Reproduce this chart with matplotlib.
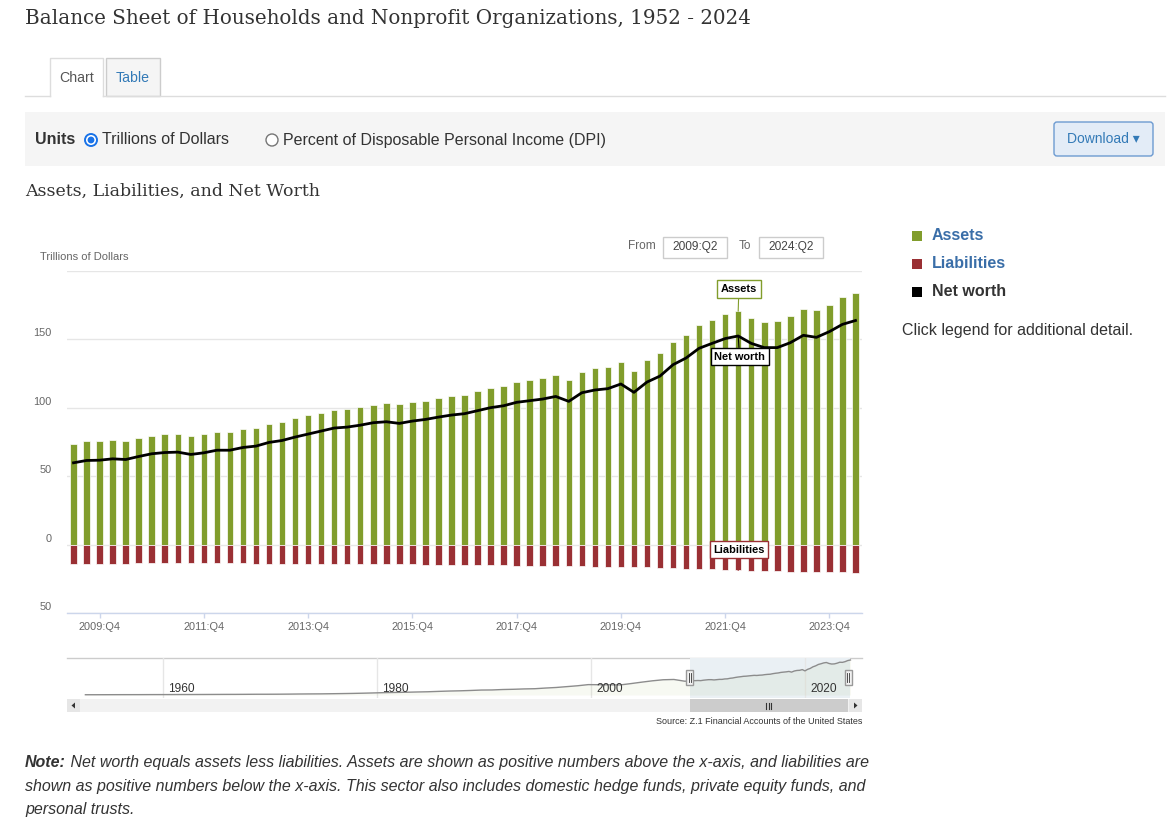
import matplotlib
matplotlib.use('Agg')
import matplotlib.pyplot as plt
from matplotlib.patches import Rectangle, FancyBboxPatch, Circle, Polygon
from matplotlib.transforms import offset_copy

plt.rcParams['font.family'] = ['Liberation Sans', 'DejaVu Sans']

W, H = 1176, 826

# ---------------- data ----------------
quarters = [f"{y}:Q{q}" for y in range(2009, 2025) for q in range(1, 5)][1:-2]  # 2009:Q2 .. 2024:Q2

assets = [73.2, 75.4, 75.4, 76.1, 75.4, 77.6, 79.1, 80.5, 80.5, 79.1,
          80.5, 82.0, 82.0, 84.2, 84.9, 87.8, 89.3, 92.2, 94.4, 96.0,
          98.1, 98.8, 100.3, 101.7, 103.2, 102.5, 104.0, 104.7, 106.9, 108.3,
          109.1, 112.0, 114.2, 115.7, 118.6, 120.1, 121.5, 123.7, 120.1, 125.9,
          128.8, 129.6, 133.2, 126.6, 134.7, 139.8, 148.1, 153.0, 160.3, 164.0,
          168.4, 170.6, 165.4, 162.5, 163.3, 166.9, 172.0, 171.3, 175.0, 180.8,
          183.7]

liabilities = [14.0, 14.0, 13.9, 13.9, 13.9, 13.8, 13.8, 13.8, 13.8, 13.8,
               13.8, 13.8, 13.8, 13.8, 13.9, 13.9, 13.9, 14.0, 14.0, 14.0,
               14.1, 14.1, 14.2, 14.2, 14.3, 14.5, 14.5, 14.6, 14.6, 14.7,
               14.7, 14.8, 14.9, 15.2, 15.3, 15.4, 15.5, 15.6, 15.9, 16.0,
               16.1, 16.2, 16.5, 16.6, 16.7, 16.9, 17.3, 17.6, 17.9, 18.2,
               18.6, 18.9, 19.3, 19.5, 19.6, 19.8, 20.0, 19.9, 20.2, 20.3,
               20.4]

net_worth = [59.8, 61.5, 61.7, 62.7, 62.2, 64.4, 66.4, 67.3, 67.6, 65.9,
             67.1, 69.0, 69.0, 71.0, 72.0, 74.7, 76.1, 78.6, 80.8, 83.0,
             85.2, 85.9, 87.3, 89.1, 89.8, 88.6, 90.3, 91.5, 93.2, 94.7,
             95.7, 97.9, 100.1, 101.5, 104.0, 105.2, 106.4, 108.3, 104.7, 111.0,
             113.0, 114.0, 117.4, 111.3, 118.8, 123.2, 131.5, 136.4, 143.5, 147.1,
             150.6, 152.5, 147.1, 144.0, 144.0, 147.6, 153.0, 151.5, 155.7, 161.0,
             163.8]

# navigator: annual assets 1952-2008 (year-end), then the quarterly series
nav_years = list(range(1952, 2009))
nav_assets_annual = [1.4, 1.45, 1.6, 1.75, 1.85, 1.9, 2.1, 2.2, 2.3, 2.5,
                     2.55, 2.75, 2.95, 3.2, 3.3, 3.6, 3.95, 4.0, 4.25, 4.7,
                     5.3, 5.7, 6.0, 6.7, 7.5, 8.4, 9.6, 11.0, 12.5, 13.5,
                     14.5, 15.9, 17.0, 19.0, 20.8, 22.0, 23.8, 26.0, 26.5, 28.8,
                     30.0, 31.9, 33.0, 36.5, 39.5, 44.0, 48.5, 54.5, 54.0, 53.5,
                     53.0, 60.0, 67.5, 74.5, 80.0, 81.5, 72.5]

yticks = [-50, 0, 50, 100, 150, 200]
ytick_labels = ["50", "0", "50", "100", "150", ""]
xtick_idx = list(range(2, 61, 8))
nav_label_years = [1960, 1980, 2000, 2020]

GREEN = '#819d2c'
RED = '#9a3034'
BLUE_TXT = '#3a6ea8'
DARK = '#333333'

fig = plt.figure(figsize=(W / 100, H / 100), dpi=100)
fig.patch.set_facecolor('white')
bg = fig.add_axes([0, 0, 1, 1])
bg.set_xlim(0, W)
bg.set_ylim(H, 0)
bg.axis('off')
renderer = fig.canvas.get_renderer()


def fit(t, target):
    w = t.get_window_extent(renderer).width
    t.set_fontsize(t.get_fontsize() * target / w)


# ---------------- header ----------------
t = bg.text(25, 18, "Balance Sheet of Households and Nonprofit Organizations, 1952 - 2024",
            family='DejaVu Serif', fontsize=15, color=DARK, va='center', ha='left')
fit(t, 723)

# tabs
bg.plot([25, 50], [96, 96], color='#dddddd', lw=1)
bg.plot([103, 1165], [96, 96], color='#dddddd', lw=1)
bg.plot([50, 50, 103, 103], [96, 58, 58, 96], color='#dddddd', lw=1)
bg.add_patch(Rectangle((106, 58), 54, 38, fc='#f5f5f5', ec='#cccccc', lw=1))
bg.text(77, 78, "Chart", fontsize=10.2, color='#555555', ha='center', va='center')
bg.text(133, 78, "Table", fontsize=10.2, color='#337ab7', ha='center', va='center')

# units bar
bg.add_patch(Rectangle((25, 112), 1140, 54, fc='#f5f5f5', ec='none'))
bg.text(35, 140, "Units", fontsize=11.5, fontweight='bold', color=DARK, va='center')
bg.add_patch(Circle((91, 140), 6.0, fc='white', ec='#1a73e8', lw=1.4))
bg.add_patch(Circle((91, 140), 3.4, fc='#1a73e8', ec='none'))
bg.text(102, 140, "Trillions of Dollars", fontsize=11.5, color=DARK, va='center')
bg.add_patch(Circle((272, 140), 6.0, fc='white', ec='#767676', lw=1.0))
bg.text(283, 140, "Percent of Disposable Personal Income (DPI)", fontsize=11.5, color=DARK, va='center')

bg.add_patch(FancyBboxPatch((1054, 122), 99, 34, boxstyle='round,pad=0,rounding_size=3',
                            fc='#e3ecf7', ec='#6d9bd1', lw=1))
bg.text(1103, 139, "Download \u25BE", fontsize=10, color='#337ab7', ha='center', va='center')

t = bg.text(25, 191, "Assets, Liabilities, and Net Worth", family='DejaVu Serif',
            fontsize=13, color=DARK, va='center')
fit(t, 295)

# chart decorations (outside plot area)
bg.text(40, 257, "Trillions of Dollars", fontsize=8, color='#666666', va='center')
bg.text(656, 246, "From", fontsize=8.6, color='#666666', va='center', ha='right')
bg.add_patch(Rectangle((663, 237), 64, 21, fc='white', ec='#cccccc', lw=1))
bg.text(695, 247, quarters[0], fontsize=8.6, color='#444444', ha='center', va='center')
bg.text(739, 246, "To", fontsize=8.6, color='#666666', va='center', ha='left')
bg.add_patch(Rectangle((759, 237), 64, 21, fc='white', ec='#cccccc', lw=1))
bg.text(791, 247, quarters[-1], fontsize=8.6, color='#444444', ha='center', va='center')

# legend
for yy, lab, col, tc in [(236, "Assets", GREEN, BLUE_TXT), (264, "Liabilities", RED, BLUE_TXT),
                         (292, "Net worth", 'black', DARK)]:
    bg.add_patch(Rectangle((912, yy - 5), 10, 10, fc=col, ec='none'))
    bg.text(932, yy, lab, fontsize=11.5, fontweight='bold', color=tc, va='center')
bg.text(902, 330, "Click legend for additional detail.", fontsize=11.5, color=DARK, va='center')

# ---------------- main chart ----------------
ax = fig.add_axes([67 / W, 1 - 613 / H, 795 / W, 342 / H])
ax.set_facecolor('none')
x = list(range(len(quarters)))
ax.set_xlim(-0.5, len(quarters) - 0.5)
ax.set_ylim(-50, 200)
for s in ['top', 'right', 'left']:
    ax.spines[s].set_visible(False)
ax.spines['bottom'].set_color('#ccd6eb')
ax.spines['bottom'].set_linewidth(1)
ax.set_yticks(yticks)
ax.set_yticklabels([])
ax.tick_params(axis='y', length=0)
ax.grid(axis='y', color='#e6e6e6', lw=1)
ax.set_axisbelow(True)
ax.set_xticks(xtick_idx)
ax.set_xticklabels([quarters[i] for i in xtick_idx])
ax.tick_params(axis='x', color='#ccd6eb', length=3.6, width=1, labelcolor='#666666',
               labelsize=7.9, pad=3.2)

tr = offset_copy(ax.get_yaxis_transform(), fig=fig, x=-15, y=6, units='dots')
for v, lab in zip(yticks, ytick_labels):
    if lab:
        ax.text(0, v, lab, transform=tr, ha='right', va='center', fontsize=7.9, color='#666666')

ax.bar(x, assets, width=0.5, color=GREEN, edgecolor='white', linewidth=0.5, zorder=2)
ax.bar(x, [-v for v in liabilities], width=0.5, color=RED, edgecolor='white', linewidth=0.5, zorder=2)
ax.plot(x, net_worth, color='black', lw=2, zorder=3, solid_joinstyle='round')

k = 51
ax.annotate("Assets", xy=(k, assets[k]), xytext=(0.5, 16), textcoords='offset points',
            ha='center', va='center', fontsize=7.9, fontweight='bold', color='black', zorder=6,
            bbox=dict(boxstyle='square,pad=0.33', fc='white', ec=GREEN, lw=1),
            arrowprops=dict(arrowstyle='-', color=GREEN, lw=0.8, shrinkA=0, shrinkB=0))
ax.annotate("Net worth", xy=(k, net_worth[k]), xytext=(1, -14.8), textcoords='offset points',
            ha='center', va='center', fontsize=7.9, fontweight='bold', color='black', zorder=6,
            bbox=dict(boxstyle='square,pad=0.33', fc='white', ec='black', lw=1),
            arrowprops=dict(arrowstyle='-', color='black', lw=0.8, shrinkA=0, shrinkB=0))
ax.annotate("Liabilities", xy=(k, -liabilities[k]), xytext=(0.5, 15), textcoords='offset points',
            ha='center', va='center', fontsize=7.9, fontweight='bold', color='black', zorder=6,
            bbox=dict(boxstyle='square,pad=0.33', fc='white', ec=RED, lw=1),
            arrowprops=dict(arrowstyle='-', color=RED, lw=0.8, shrinkA=0, shrinkB=0))

# ---------------- navigator ----------------
NX0, NX1 = 1951.03, 2025.33
nav = fig.add_axes([67 / W, 1 - 698 / H, 795 / W, 40 / H])
nav.set_xlim(NX0, NX1)
nav.set_ylim(-15.7, 194.2)
nav.axis('off')
t_q = [2009.25 + 0.25 * i for i in range(len(quarters))]
nav_t = [yv + 0.75 for yv in nav_years] + t_q
nav_v = nav_assets_annual + assets
nav.axvspan(t_q[0], t_q[-1], color='#eaf0f4', zorder=0, lw=0)
for yv in nav_label_years:
    nav.axvline(yv, color='#e6e6e6', lw=1, zorder=0.5)
nav.fill_between(nav_t, nav_v, 0, color=GREEN, alpha=0.06, lw=0, zorder=1)
nav.plot(nav_t, nav_v, color='#8c8c8c', lw=1, zorder=2)
ntr = offset_copy(nav.get_xaxis_transform(), fig=fig, x=5, y=0, units='dots')
for yv in nav_label_years:
    nav.text(yv, 0.22, str(yv), transform=ntr, fontsize=8.6, color=DARK, ha='left', va='center')


def nav_px(tv):
    return 67 + (tv - NX0) / (NX1 - NX0) * 795


bg.plot([67, 862], [658, 658], color='#cccccc', lw=1)
hx0, hx1 = nav_px(t_q[0]), min(nav_px(t_q[-1]), 848)
# scrollbar
bg.add_patch(Rectangle((67, 699), 795, 13, fc='#f2f2f2', ec='none'))
bg.add_patch(Rectangle((67, 699), 13, 13, fc='#e6e6e6', ec='none'))
bg.add_patch(Rectangle((849, 699), 13, 13, fc='#e6e6e6', ec='none'))
bg.add_patch(Polygon([[75, 702.5], [75, 708.5], [71.5, 705.5]], closed=True, fc='#333333', ec='none'))
bg.add_patch(Polygon([[854, 702.5], [854, 708.5], [857.5, 705.5]], closed=True, fc='#333333', ec='none'))
bg.add_patch(Rectangle((hx0, 699), hx1 - hx0, 13, fc='#cccccc', ec='none'))
for dx in (-2.5, 0, 2.5):
    bg.plot([(hx0 + hx1) / 2 + dx] * 2, [702.5, 708.5], color='#333333', lw=0.8)

# handles on a top overlay so they sit above the navigator
top = fig.add_axes([0, 0, 1, 1])
top.set_xlim(0, W)
top.set_ylim(H, 0)
top.axis('off')
top.patch.set_visible(False)
for hx in (hx0, hx1):
    top.add_patch(Rectangle((hx - 3.5, 670), 7, 15, fc='#f2f2f2', ec='#999999', lw=1, zorder=5))
    for dx in (-1, 1):
        top.plot([hx + dx] * 2, [673, 682], color='#333333', lw=0.6, zorder=6)

t = bg.text(862, 721, "Source: Z.1 Financial Accounts of the United States", fontsize=6.5,
            color=DARK, ha='right', va='center')
fit(t, 205)

# ---------------- note ----------------
note_b = bg.text(25, 767, "Note:", fontsize=11.5, fontweight='bold', style='italic',
                 color=DARK, va='baseline')
nb_w = note_b.get_window_extent(renderer).width
bg.text(25 + nb_w, 767, " Net worth equals assets less liabilities. Assets are shown as positive numbers above the x-axis, and liabilities are",
        fontsize=11.5, style='italic', color=DARK, va='baseline')
bg.text(25, 791, "shown as positive numbers below the x-axis. This sector also includes domestic hedge funds, private equity funds, and",
        fontsize=11.5, style='italic', color=DARK, va='baseline')
bg.text(25, 814, "personal trusts.", fontsize=11.5, style='italic', color=DARK, va='baseline')

fig.savefig('out.png', dpi=100, facecolor='white')
